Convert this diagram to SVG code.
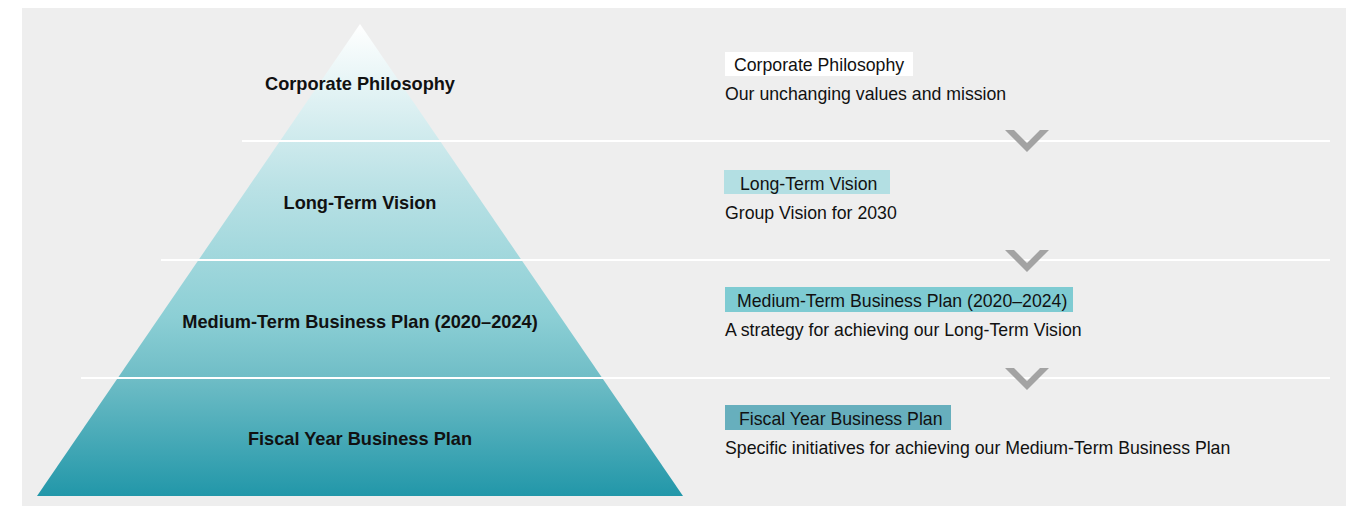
<svg xmlns="http://www.w3.org/2000/svg" width="1354" height="506" viewBox="0 0 1354 506">
<defs>
<linearGradient id="pyr" x1="0" y1="24" x2="0" y2="496" gradientUnits="userSpaceOnUse">
<stop offset="0" stop-color="#ffffff"/>
<stop offset="0.35" stop-color="#b9e1e5"/>
<stop offset="0.62" stop-color="#8ccfd5"/>
<stop offset="0.75" stop-color="#6fbdc6"/>
<stop offset="1" stop-color="#2297a9"/>
</linearGradient>
<polygon id="chev" points="-22,0 -13,0 0,13 13,0 22,0 0,22" fill="#a3a3a3"/>
</defs>
<style>
.pl{font-family:"Liberation Sans",Arial,sans-serif;font-size:18.2px;font-weight:bold;fill:#111;text-anchor:middle}
.rt{font-family:"Liberation Sans",Arial,sans-serif;font-size:17.7px;fill:#111}
.sep{stroke:#ffffff;stroke-width:2}
</style>
<rect x="22" y="8" width="1324" height="498" fill="#eeeeee"/>
<g id="pyramid">
<polygon points="360,24 683,496 37,496" fill="url(#pyr)"/>
</g>
<g id="connectors">
<line class="sep" x1="242" y1="141" x2="1330" y2="141"/>
<line class="sep" x1="161" y1="260" x2="1330" y2="260"/>
<line class="sep" x1="81" y1="378" x2="1330" y2="378"/>
<use href="#chev" x="1027" y="130"/>
<use href="#chev" x="1027" y="250"/>
<use href="#chev" x="1027" y="368"/>
</g>
<g id="tier1">
<text class="pl" x="360" y="90">Corporate Philosophy</text>
<rect x="725" y="52" width="188" height="24" fill="#ffffff"/>
<text class="rt" x="734" y="70.5">Corporate Philosophy</text>
<text class="rt" x="725" y="100">Our unchanging values and mission</text>
</g>
<g id="tier2">
<text class="pl" x="360" y="209">Long-Term Vision</text>
<rect x="724" y="170" width="166" height="24" fill="#b3dfe3"/>
<text class="rt" x="740" y="189.5">Long-Term Vision</text>
<text class="rt" x="725" y="219">Group Vision for 2030</text>
</g>
<g id="tier3">
<text class="pl" x="360" y="328">Medium-Term Business Plan (2020–2024)</text>
<rect x="725" y="287" width="348" height="25" fill="#7ecbd2"/>
<text class="rt" x="737" y="306.5">Medium-Term Business Plan (2020–2024)</text>
<text class="rt" x="725" y="336">A strategy for achieving our Long-Term Vision</text>
</g>
<g id="tier4">
<text class="pl" x="360" y="445">Fiscal Year Business Plan</text>
<rect x="725" y="405" width="226" height="25" fill="#67afbd"/>
<text class="rt" x="739" y="424.5">Fiscal Year Business Plan</text>
<text class="rt" x="725" y="454">Specific initiatives for achieving our Medium-Term Business Plan</text>
</g>
</svg>
